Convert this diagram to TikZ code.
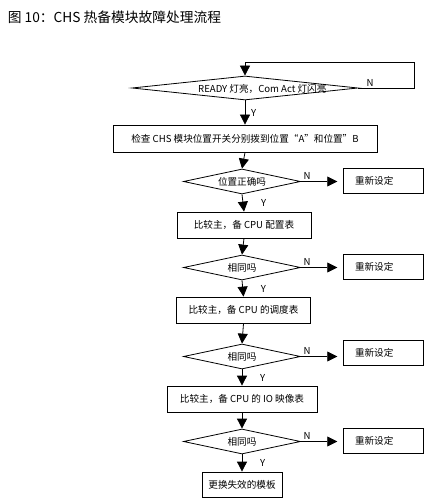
\documentclass[tikz,border=0pt]{standalone}
\usepackage{fontspec}
\setmainfont{Noto Sans CJK SC}
\usetikzlibrary{arrows.meta,shapes.geometric}

\begin{document}
\begin{tikzpicture}[x=0.75pt,y=-0.75pt,line width=0.6pt,font=\fontsize{7.2}{8}\selectfont,
  dec/.style={diamond,draw,inner sep=0pt,minimum width=87.75pt,minimum height=18.75pt},
  proc/.style={rectangle,draw,inner sep=0pt,minimum height=19.5pt},
  fix/.style={rectangle,draw,inner xsep=9pt,inner ysep=0pt,text width=42pt,align=left,minimum height=18.75pt},
  flow/.style={-{Triangle[length=7.5pt,width=7.5pt]}}]
  \useasboundingbox (0,0) rectangle (448,502);
  \node[anchor=west,font=\fontsize{10.3}{12}\selectfont] (title) at (3,17) {图 10：CHS 热备模块故障处理流程};
  % --- hlavni vetev ---
  \node[dec,minimum width=169.5pt,minimum height=18pt,label={[xshift=13pt,yshift=-1pt]center:READY 灯亮，Com Act 灯闪亮}] (d1) at (245,88) {};
  \node[proc,minimum width=198pt,minimum height=20.25pt] (b1) at (245,138.5) {检查 CHS 模块位置开关分别拨到位置“A”和位置”B};
  \node[dec,label=center:位置正确吗] (d2) at (242,181.5) {};
  \node[proc,minimum width=100.5pt] (b2) at (244,225) {比较主，备 CPU 配置表};
  \node[dec,label=center:相同吗] (d3) at (242,267.5) {};
  \node[proc,minimum width=100pt] (b3) at (243.5,310) {比较主，备 CPU 的调度表};
  \node[dec,label=center:相同吗] (d4) at (242,356.5) {};
  \node[proc,minimum width=112.5pt] (b4) at (242,399) {比较主，备 CPU 的 IO 映像表};
  \node[dec,label=center:相同吗] (d5) at (242,441.5) {};
  \node[proc,minimum width=60pt,minimum height=18.75pt] (b5) at (242,484.5) {更换失效的模板};
  % --- vetve N ---
  \node[fix] (r1) at (383,180.5) {重新设定};
  \node[fix] (r2) at (383,266.5) {重新设定};
  \node[fix] (r3) at (383,353) {重新设定};
  \node[fix] (r4) at (383,440.5) {重新设定};
  \coordinate (back) at (414,62);
  % --- sipky ---
  \draw[flow] (d1.east) -- node[pos=0.21,above,inner sep=1pt]{N} (d1.east -| back) -- (back) -| (d1.north);
  \draw[flow] (d1.south) -- node[right=1pt]{Y} (b1.north);
  \draw[flow] (b1.south) -- (d2.north);
  \draw[flow] (d2.south) -- node[right=10pt]{Y} (b2.north);
  \draw[flow] (b2.south) -- (d3.north);
  \draw[flow] (d3.south) -- node[right=10pt]{Y} (b3.north);
  \draw[flow] (b3.south) -- (d4.north);
  \draw[flow] (d4.south) -- node[right=10pt]{Y} (b4.north);
  \draw[flow] (b4.south) -- (d5.north);
  \draw[flow] (d5.south) -- node[right=10pt]{Y} (b5.north);
  \draw[flow,shorten >=4pt] (d2.east) -- node[pos=0.15,above,inner sep=1pt]{N} (d2.east -| r1.west);
  \draw[flow,shorten >=4pt] (d3.east) -- node[pos=0.15,above,inner sep=1pt]{N} (d3.east -| r2.west);
  \draw[flow,shorten >=4pt] (d4.east) -- node[pos=0.15,above,inner sep=1pt]{N} (d4.east -| r3.west);
  \draw[flow,shorten >=4pt] (d5.east) -- node[pos=0.15,above,inner sep=1pt]{N} (d5.east -| r4.west);
\end{tikzpicture}
\end{document}
